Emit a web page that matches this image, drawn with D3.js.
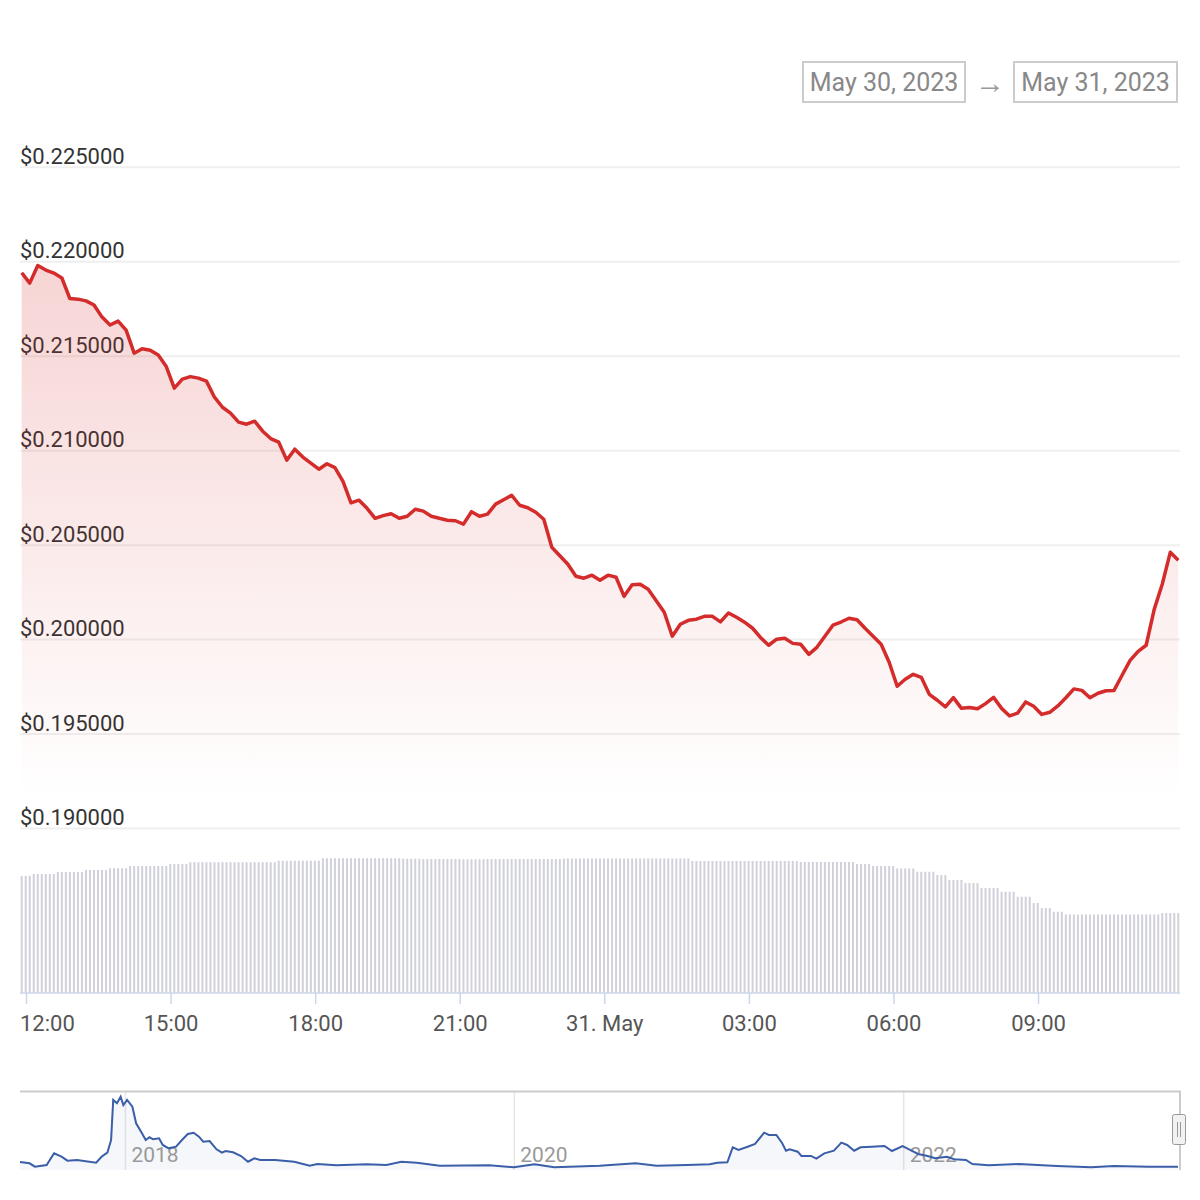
<!DOCTYPE html>
<html>
<head>
<meta charset="utf-8">
<script src="https://cdn.jsdelivr.net/npm/d3@7"></script>
<style>
  html, body { margin: 0; padding: 0; background: #fff; }
  svg { display: block; font-family: Roboto, "Open Sans", sans-serif; }
</style>
</head>
<body>
<svg width="1200" height="1200"></svg>
<script>
// Precio cada 10 minutos, desde el 30 de mayo 11:54 (UTC)
const startTime = "2023-05-30T11:54:00Z";
const priceValues = [
  0.21942, 0.21887, 0.21980, 0.21956, 0.21940, 0.21914, 0.21805, 0.21802, 0.21793, 0.21771,
  0.21707, 0.21665, 0.21686, 0.21638, 0.21516, 0.21540, 0.21532, 0.21506, 0.21445, 0.21331,
  0.21379, 0.21392, 0.21384, 0.21368, 0.21283, 0.21230, 0.21199, 0.21151, 0.21140, 0.21156,
  0.21103, 0.21064, 0.21045, 0.20950, 0.21008, 0.20966, 0.20934, 0.20902, 0.20931, 0.20910,
  0.20838, 0.20724, 0.20738, 0.20695, 0.20642, 0.20656, 0.20666, 0.20642, 0.20653, 0.20690,
  0.20680, 0.20653, 0.20642, 0.20632, 0.20629, 0.20611, 0.20677, 0.20653, 0.20664, 0.20717,
  0.20740, 0.20764, 0.20711, 0.20698, 0.20674, 0.20637, 0.20489, 0.20444, 0.20399, 0.20335,
  0.20325, 0.20341, 0.20314, 0.20341, 0.20330, 0.20229, 0.20290, 0.20293, 0.20266, 0.20206,
  0.20145, 0.20018, 0.20081, 0.20102, 0.20108, 0.20123, 0.20123, 0.20094, 0.20141, 0.20118,
  0.20092, 0.20060, 0.20010, 0.19970, 0.20002, 0.20007, 0.19980, 0.19975, 0.19922, 0.19959,
  0.20018, 0.20076, 0.20093, 0.20113, 0.20105, 0.20060, 0.20018, 0.19975, 0.19880, 0.19753,
  0.19790, 0.19816, 0.19800, 0.19710, 0.19679, 0.19644, 0.19693, 0.19636, 0.19641, 0.19634,
  0.19661, 0.19694, 0.19636, 0.19596, 0.19611, 0.19670, 0.19647, 0.19604, 0.19615, 0.19649,
  0.19692, 0.19739, 0.19731, 0.19692, 0.19716, 0.19729, 0.19731, 0.19811, 0.19890, 0.19938,
  0.19970, 0.20160, 0.20293, 0.20462, 0.20420
];

// Volumen (millones USD) cada 5 minutos
const volumeValues = [
  468,468,469,476,476,476,476,476,476,484,484,484,484,484,484,484,492,492,492,492,
  492,492,499,499,499,499,499,508,508,508,508,508,508,508,508,508,508,516,516,516,
  516,516,523,523,523,523,523,523,523,523,523,523,523,523,523,523,523,523,523,523,
  523,523,523,523,529,529,529,529,529,529,529,529,529,529,529,539,539,539,539,539,
  539,539,539,539,539,539,539,539,539,539,539,539,539,539,539,537,537,537,537,537,
  536,536,536,536,536,536,536,536,536,536,535,535,535,535,535,535,536,536,536,536,
  536,536,536,536,536,536,536,536,536,536,536,536,536,536,536,538,538,538,538,538,
  538,538,538,538,538,538,538,538,538,538,538,538,538,538,538,538,538,538,538,538,
  538,538,538,538,538,538,538,528,528,528,528,528,528,528,528,528,528,528,528,528,
  528,528,528,528,528,528,528,528,528,528,528,528,528,528,524,524,524,524,524,524,
  524,524,524,524,524,524,524,524,516,516,516,516,508,508,508,508,508,508,498,498,
  498,498,498,485,485,485,485,485,472,472,472,452,452,452,452,440,440,440,440,420,
  420,420,420,420,405,405,405,405,385,385,385,385,360,360,340,340,340,325,325,325,
  314,314,314,314,314,314,314,314,314,314,314,314,314,314,314,314,314,314,314,314,
  314,314,314,314,320,320,320,320,320
];

// Ejes
const priceTicks = [0.19, 0.195, 0.2, 0.205, 0.21, 0.215, 0.22, 0.225];
const timeTicks = ["2023-05-30T12:00:00Z", "2023-05-30T15:00:00Z", "2023-05-30T18:00:00Z", "2023-05-30T21:00:00Z",
                   "2023-05-31T00:00:00Z", "2023-05-31T03:00:00Z", "2023-05-31T06:00:00Z", "2023-05-31T09:00:00Z"];
const timeTickLabels = ["12:00", "15:00", "18:00", "21:00", "31. May", "03:00", "06:00", "09:00"];
const dateRange = ["May 30, 2023", "May 31, 2023"];

// Navegador (historial completo)
const navDates = [
  "2017-06-17","2017-07-05","2017-07-15","2017-08-06","2017-08-20","2017-09-03","2017-09-14","2017-10-02",
  "2017-11-07","2017-11-17","2017-11-28","2017-12-05","2017-12-09","2017-12-16","2017-12-23","2017-12-28",
  "2018-01-04","2018-01-14","2018-01-21","2018-02-01","2018-02-08","2018-02-15","2018-02-22","2018-03-05",
  "2018-03-12","2018-03-23","2018-04-06","2018-04-17","2018-04-28","2018-05-09","2018-05-19","2018-05-27",
  "2018-06-08","2018-06-21","2018-07-01","2018-07-08","2018-07-22","2018-08-06","2018-08-19","2018-08-31",
  "2018-09-11","2018-10-09","2018-11-14","2018-12-13","2018-12-27","2019-02-01","2019-03-30","2019-05-06",
  "2019-06-03","2019-07-02","2019-08-14","2019-11-15","2019-12-31","2020-02-08","2020-03-16","2020-06-09",
  "2020-08-16","2020-09-24","2020-11-20","2021-01-02","2021-01-16","2021-02-04","2021-02-14","2021-02-25",
  "2021-03-14","2021-03-28","2021-04-14","2021-04-23","2021-05-07","2021-05-18","2021-05-25","2021-06-01",
  "2021-06-16","2021-06-23","2021-07-11","2021-07-21","2021-08-05","2021-08-23","2021-09-06","2021-09-17",
  "2021-09-30","2021-10-12","2021-11-02","2021-11-26","2021-12-10","2021-12-30","2022-01-13","2022-01-28",
  "2022-02-15","2022-03-01","2022-03-23","2022-04-06","2022-04-28","2022-05-10","2022-06-10","2022-08-05",
  "2022-10-16","2022-12-19","2023-01-31","2023-04-06","2023-05-31"
];
const navPrices = [
  0.323, 0.290, 0.207, 0.249, 0.537, 0.453, 0.355, 0.372,
  0.305, 0.453, 0.552, 0.865, 1.852, 1.770, 1.933, 1.728,
  1.852, 1.686, 1.277, 1.030, 0.865, 0.932, 0.882, 0.907,
  0.742, 0.660, 0.700, 0.865, 1.013, 1.045, 0.947, 0.823,
  0.840, 0.636, 0.552, 0.594, 0.562, 0.471, 0.330, 0.414,
  0.372, 0.372, 0.330, 0.231, 0.273, 0.241, 0.266, 0.249,
  0.330, 0.305, 0.231, 0.241, 0.192, 0.266, 0.192, 0.231,
  0.290, 0.231, 0.249, 0.266, 0.305, 0.315, 0.685, 0.619,
  0.700, 0.767, 1.045, 0.988, 0.988, 0.784, 0.601, 0.636,
  0.577, 0.471, 0.471, 0.404, 0.537, 0.601, 0.799, 0.742,
  0.601, 0.685, 0.700, 0.717, 0.594, 0.717, 0.619, 0.520,
  0.471, 0.414, 0.453, 0.389, 0.372, 0.273, 0.241, 0.273,
  0.224, 0.192, 0.224, 0.207, 0.204
];
const navYears = ["2018-01-01", "2020-01-01", "2022-01-01"];

const svg = d3.select("svg");
const t0 = new Date(startTime);
const MIN = 60 * 1000;

// Escalas
const x = d3.scaleUtc()
  .domain([t0, new Date(+t0 + 24 * 60 * MIN)])
  .range([21.7, 1178.3]);
const y = d3.scaleLinear().domain([0.19, 0.225]).range([828.5, 167.3]);
const yVol = d3.scaleLinear().domain([0, 600]).range([993, 843]);

const priceData = priceValues.map((p, i) => ({ t: new Date(+t0 + i * 10 * MIN), p }));
const volData = volumeValues.map((v, i) => ({ t: new Date(+t0 + i * 5 * MIN), v }));

// Degradado del área
const defs = svg.append("defs");
const grad = defs.append("linearGradient")
  .attr("id", "areaFill")
  .attr("gradientUnits", "userSpaceOnUse")
  .attr("x1", 0).attr("x2", 0)
  .attr("y1", y(0.22)).attr("y2", y(0.1915));
grad.append("stop").attr("offset", 0).attr("stop-color", "#d62828").attr("stop-opacity", 0.2);
grad.append("stop").attr("offset", 1).attr("stop-color", "#d62828").attr("stop-opacity", 0);

// Líneas de la cuadrícula y etiquetas del eje Y
svg.append("g")
  .selectAll("line")
  .data(priceTicks)
  .join("line")
  .attr("x1", 20).attr("x2", 1180)
  .attr("y1", d => y(d)).attr("y2", d => y(d))
  .attr("stroke", "#efefef")
  .attr("stroke-width", 2);

svg.append("g")
  .selectAll("text")
  .data(priceTicks)
  .join("text")
  .attr("x", 20)
  .attr("y", d => y(d) - 3.5)
  .style("font-size", "22px")
  .style("fill", "#333")
  .text(d => "$" + d.toFixed(6));

// Barras de volumen
svg.append("g")
  .selectAll("rect")
  .data(volData)
  .join("rect")
  .attr("x", d => x(d.t) - 1)
  .attr("width", 2)
  .attr("y", d => yVol(d.v))
  .attr("height", d => yVol(0) - yVol(d.v))
  .attr("fill", "#d0d1da");

// Área y línea del precio
svg.append("path")
  .datum(priceData)
  .attr("d", d3.area().x(d => x(d.t)).y0(y(0.19)).y1(d => y(d.p)))
  .attr("fill", "url(#areaFill)");

svg.append("path")
  .datum(priceData)
  .attr("d", d3.line().x(d => x(d.t)).y(d => y(d.p)))
  .attr("fill", "none")
  .attr("stroke", "#d42b2b")
  .attr("stroke-width", 3.5)
  .attr("stroke-linejoin", "round");

// Eje X
svg.append("line")
  .attr("x1", 20).attr("x2", 1180)
  .attr("y1", yVol(0)).attr("y2", yVol(0))
  .attr("stroke", "#ccd6eb").attr("stroke-width", 1.5);

const ticks = timeTicks.map((t, i) => ({ t: new Date(t), label: timeTickLabels[i] }));
svg.append("g")
  .selectAll("line")
  .data(ticks)
  .join("line")
  .attr("x1", d => x(d.t)).attr("x2", d => x(d.t))
  .attr("y1", yVol(0)).attr("y2", yVol(0) + 11)
  .attr("stroke", "#ccd6eb").attr("stroke-width", 1.5);

svg.append("g")
  .selectAll("text")
  .data(ticks)
  .join("text")
  .attr("x", d => x(d.t))
  .attr("y", 1031)
  .attr("text-anchor", "middle")
  .style("font-size", "22px")
  .style("fill", "#555")
  .text(d => d.label)
  .each(function() {
    // la primera etiqueta no puede salirse por la izquierda
    const b = this.getBBox();
    if (b.x < 20) d3.select(this).attr("x", +d3.select(this).attr("x") + (20 - b.x));
  });

// Selector de fechas
const boxes = [{ x: 803, w: 162 }, { x: 1014, w: 163 }];
svg.append("g")
  .selectAll("rect")
  .data(dateRange)
  .join("rect")
  .attr("x", (d, i) => boxes[i].x).attr("y", 62)
  .attr("width", (d, i) => boxes[i].w).attr("height", 40)
  .attr("fill", "#fff")
  .attr("stroke", "#cccccc").attr("stroke-width", 2);

svg.append("g")
  .selectAll("text")
  .data(dateRange)
  .join("text")
  .attr("x", (d, i) => boxes[i].x + boxes[i].w / 2)
  .attr("y", 91)
  .attr("text-anchor", "middle")
  .style("font-size", "25px")
  .style("fill", "#888")
  .text(d => d);

svg.append("text")
  .attr("x", 990).attr("y", 93)
  .attr("text-anchor", "middle")
  .style("font-size", "30px")
  .style("fill", "#999")
  .text("→");

// Navegador
const navData = navDates.map((d, i) => ({ t: new Date(d + "T00:00:00Z"), p: navPrices[i] }));
const xNav = d3.scaleUtc()
  .domain([navData[0].t, navData[navData.length - 1].t])
  .range([20, 1178]);
const yNav = d3.scaleLinear().domain([0.15, 1.95]).range([1169, 1096]);

const nav = svg.append("g");
nav.selectAll("line.grid")
  .data(navYears)
  .join("line")
  .attr("class", "grid")
  .attr("x1", d => xNav(new Date(d))).attr("x2", d => xNav(new Date(d)))
  .attr("y1", 1091).attr("y2", 1170)
  .attr("stroke", "#e6e6e6").attr("stroke-width", 1.5);

nav.append("path")
  .datum(navData)
  .attr("d", d3.area().x(d => xNav(d.t)).y0(1170).y1(d => yNav(d.p)))
  .attr("fill", "#335cad").attr("fill-opacity", 0.05);

nav.selectAll("text")
  .data(navYears)
  .join("text")
  .attr("x", d => xNav(new Date(d)) + 6)
  .attr("y", 1162)
  .style("font-size", "21px")
  .style("fill", "#999")
  .text(d => d.slice(0, 4));

nav.append("path")
  .datum(navData)
  .attr("d", d3.line().x(d => xNav(d.t)).y(d => yNav(d.p)))
  .attr("fill", "none")
  .attr("stroke", "#3b5ea8")
  .attr("stroke-width", 2);

// Contorno y asa del navegador
nav.append("path")
  .attr("d", "M20,1091.5H1180V1170")
  .attr("fill", "none")
  .attr("stroke", "#cccccc").attr("stroke-width", 2);

nav.append("rect")
  .attr("x", 1172.5).attr("y", 1114.5)
  .attr("width", 13).attr("height", 30).attr("rx", 2)
  .attr("fill", "#f2f2f2").attr("stroke", "#999").attr("stroke-width", 1);
nav.selectAll("line.grip")
  .data([1177.5, 1180.5])
  .join("line")
  .attr("class", "grip")
  .attr("x1", d => d).attr("x2", d => d)
  .attr("y1", 1122).attr("y2", 1137)
  .attr("stroke", "#999").attr("stroke-width", 1);
</script>
</body>
</html>
